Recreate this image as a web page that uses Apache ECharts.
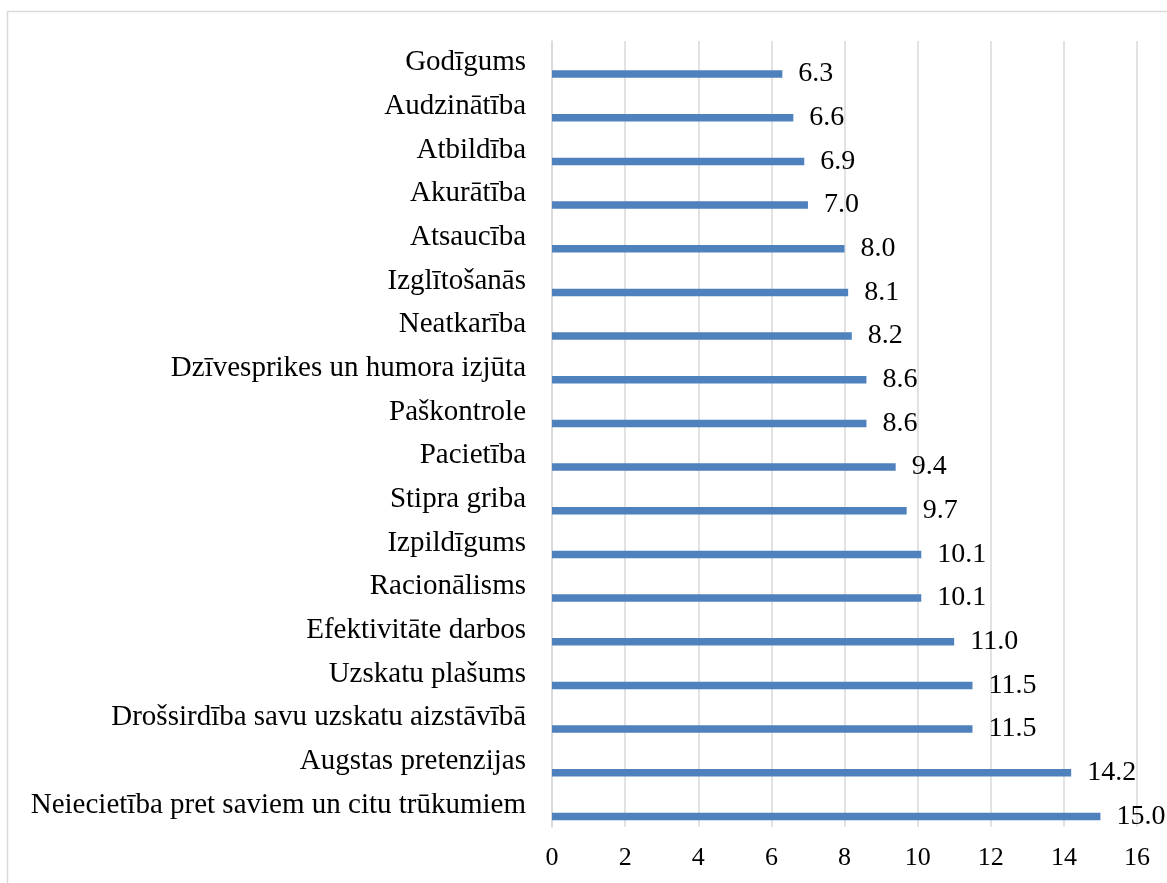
<!DOCTYPE html>
<html>
<head>
<meta charset="utf-8">
<script src="https://cdn.jsdelivr.net/npm/echarts@6/dist/echarts.min.js"></script>
<style>
html,body{margin:0;padding:0;background:#fff;}
#c{width:1167px;height:883px;}
</style>
</head>
<body>
<div id="c"></div>
<script>
const categories = [
  "Godīgums",
  "Audzinātība",
  "Atbildība",
  "Akurātība",
  "Atsaucība",
  "Izglītošanās",
  "Neatkarība",
  "Dzīvesprikes un humora izjūta",
  "Paškontrole",
  "Pacietība",
  "Stipra griba",
  "Izpildīgums",
  "Racionālisms",
  "Efektivitāte darbos",
  "Uzskatu plašums",
  "Drošsirdība savu uzskatu aizstāvībā",
  "Augstas pretenzijas",
  "Neiecietība pret saviem un citu trūkumiem"
];
const values = [6.3, 6.6, 6.9, 7.0, 8.0, 8.1, 8.2, 8.6, 8.6, 9.4, 9.7, 10.1, 10.1, 11.0, 11.5, 11.5, 14.2, 15.0];
const emptySeries = categories.map(() => null);

const FONT = '"Liberation Serif", "Times New Roman", serif';
const chart = echarts.init(document.getElementById('c'));
chart.setOption({
  animation: false,
  graphic: [{
    type: 'rect',
    shape: { x: 7.5, y: 11.5, width: 1200, height: 900 },
    style: { fill: 'none', stroke: '#d9d9d9', lineWidth: 1.5 },
    silent: true
  }],
  grid: { left: 552, right: 30, top: 41, bottom: 56, containLabel: false },
  xAxis: {
    type: 'value',
    min: 0, max: 16, interval: 2,
    axisLine: { show: false },
    axisTick: { show: false },
    splitLine: { show: true, lineStyle: { color: '#d9d9d9', width: 1.5 } },
    axisLabel: { color: '#000', fontFamily: FONT, fontSize: 26, margin: 18 }
  },
  yAxis: {
    type: 'category',
    data: categories,
    inverse: true,
    axisLine: { show: true, lineStyle: { color: '#d9d9d9', width: 1.5 } },
    axisTick: { show: false },
    axisLabel: { color: '#000', fontFamily: FONT, fontSize: 29, margin: 26 }
  },
  series: [
    {
      type: 'bar',
      data: emptySeries,
      barWidth: 7.5,
      barGap: '200%',
      silent: true
    },
    {
      type: 'bar',
      data: values,
      barWidth: 7.5,
      barGap: '200%',
      itemStyle: { color: '#4f81bd' },
      label: {
        show: true,
        position: 'right',
        distance: 16,
        color: '#000',
        fontFamily: FONT,
        fontSize: 28,
        formatter: p => p.value.toFixed(1)
      }
    }
  ]
});
</script>
</body>
</html>
